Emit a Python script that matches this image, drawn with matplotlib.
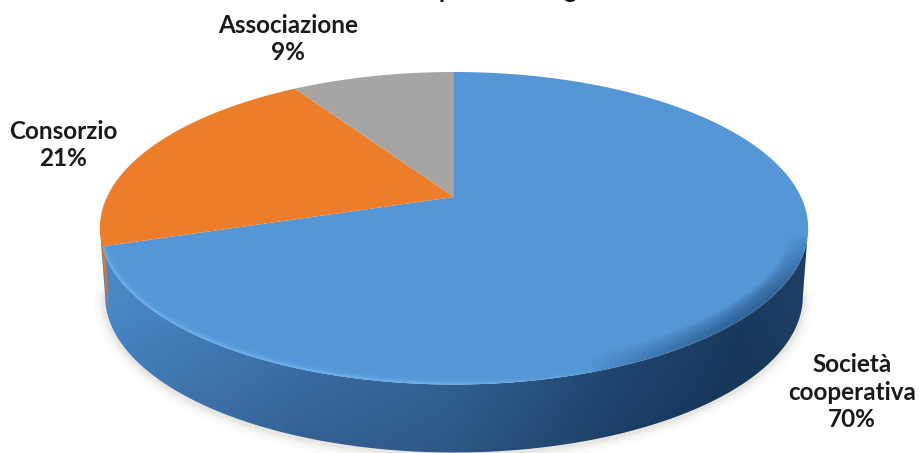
#!/usr/bin/env python3
"""Forma giuridica: torta 3D in prospettiva."""
import matplotlib
matplotlib.use('Agg')
import matplotlib.pyplot as plt
import numpy as np
from matplotlib.collections import LineCollection
from matplotlib.colors import to_rgb
from matplotlib.patches import Polygon

plt.rcParams['font.family'] = ['Lato', 'DejaVu Sans']

labels = ['Società\ncooperativa', 'Consorzio', 'Associazione']
shares = [70, 21, 9]
colors = ['#5596d6', '#ec7d2b', '#a7a5a3']
label_pos = [(852, 392), (63, 145), (288, 39)]

# pie geometry, in pixels
CX, CY = 454, 197
RX, RY = 347, 150
PERSP = 0.2
DEPTH = 68
BOTTOM_SHRINK = 0.985


def project(theta):
    # theta clockwise from 12 o'clock, disc tilted with the back edge further away
    x, y = np.sin(theta), np.cos(theta)
    w = 1 + PERSP * y
    return CX + RX * x / w, CY - RY * y / w


fig = plt.figure(figsize=(9.19, 4.53), dpi=100)
ax = fig.add_axes([0, 0, 1, 1])
ax.set_xlim(0, 919)
ax.set_ylim(453, 0)
ax.axis('off')

edges = np.cumsum([0] + shares) / sum(shares) * 2 * np.pi

# side wall runs between the two widest points of the rim
tilt = np.arcsin(PERSP)
t = np.linspace(np.pi / 2 + tilt, 3 * np.pi / 2 - tilt, 400)
rx, ry = project(t)
bx = CX + (rx - CX) * BOTTOM_SHRINK
by = ry + DEPTH

# soft shadow under the front edge
for lw, a in [(16, 0.03), (11, 0.04), (7, 0.06), (4, 0.08)]:
    ax.plot(bx, by + 1, color='#8a8078', lw=lw, alpha=a, solid_capstyle='round', zorder=1)

wall_xy = np.column_stack([np.r_[rx, bx[::-1]], np.r_[ry, by[::-1]]])
wall_clip = Polygon(wall_xy, closed=True, fc='none', ec='none')
ax.add_patch(wall_clip)

xs = np.linspace(90, 820, 200)
ys = np.linspace(210, 453, 120)
stops_x = [90, 180, 300, 450, 630, 740, 820]
stops_top = [(74, 137, 200), (70, 130, 190), (62, 118, 176), (54, 105, 158), (33, 74, 118), (24, 58, 94), (30, 64, 100)]
stops_bot = [(60, 115, 172), (58, 108, 160), (52, 96, 146), (46, 88, 134), (26, 60, 98), (22, 52, 84), (26, 58, 92)]
top = np.array([np.interp(xs, stops_x, [c[i] for c in stops_top]) for i in range(3)]).T
bot = np.array([np.interp(xs, stops_x, [c[i] for c in stops_bot]) for i in range(3)]).T
frac = np.clip((ys - 300) / 150, 0, 1)[:, None, None]
shade = (top[None, :, :] * (1 - frac) + bot[None, :, :] * frac) / 255
im = ax.imshow(shade, extent=(90, 820, 453, 210), aspect='auto', zorder=2, interpolation='bilinear')
im.set_clip_path(wall_clip)
ax.set_xlim(0, 919)
ax.set_ylim(453, 0)

# thin orange strip of the wall on the far left
ox, oy = project(edges[1])
strip = np.array([[ox - 1, oy - 12], [ox, oy + 6], [ox + 5, oy + 56], [ox + 6.5, oy + 63], [ox + 3, oy + 3]])
ax.add_patch(Polygon(strip, closed=True, fc='#e0752a', ec='none', zorder=2.5))

# top face
for i, col in enumerate(colors):
    t = np.linspace(edges[i], edges[i + 1], 200)
    px, py = project(t)
    ax.fill(np.r_[CX, px], np.r_[CY, py], color=col, lw=0, zorder=3)

t = np.linspace(0, 2 * np.pi, 500)
face_clip = Polygon(np.column_stack(project(t)), closed=True, fc='none', ec='none')
ax.add_patch(face_clip)

# rim: light on the left, fading into dark on the right
t = np.linspace(np.pi * 0.5, edges[1], 300)
px, py = project(t)
segs = np.stack([np.column_stack([px[:-1], py[:-1]]), np.column_stack([px[1:], py[1:]])], axis=1)
mx = (px[:-1] + px[1:]) / 2
light = np.clip((620 - mx) / 220, 0, 1)
dark = np.clip((mx - 590) / 140, 0, 1) * np.clip((py[:-1] - 235) / 60, 0, 1)
strokes = [(9, 0.15, '#6fb4f0', light), (5, 0.3, '#6fb4f0', light), (2.5, 0.5, '#78bcf4', light)]
strokes += [(w, 0.14, '#1e4a78', dark) for w in (26, 22, 18, 14, 10, 6)]
for lw, a, col, weight in strokes:
    rgba = np.zeros((len(mx), 4))
    rgba[:, :3] = to_rgb(col)
    rgba[:, 3] = a * weight
    rim = LineCollection(segs, colors=rgba, linewidths=lw, zorder=4)
    ax.add_collection(rim)
    rim.set_clip_path(face_clip)

# data labels
for name, val, (lx, ly) in zip(labels, shares, label_pos):
    ax.text(lx, ly, f'{name}\n{val}%', ha='center', va='center', fontsize=17.5,
            fontweight='bold', color='#1a1a1a', linespacing=1.25, zorder=6)

# the heading sits above the top edge, only its descenders land on the canvas
ax.text(438, -2, 'p', fontsize=17.5, fontweight='bold', color='#111111', va='baseline', ha='left', clip_on=True)
ax.text(570, -2, 'g', fontsize=17.5, fontweight='bold', color='#111111', va='baseline', ha='center', clip_on=True)

fig.savefig('out.png', dpi=100)
